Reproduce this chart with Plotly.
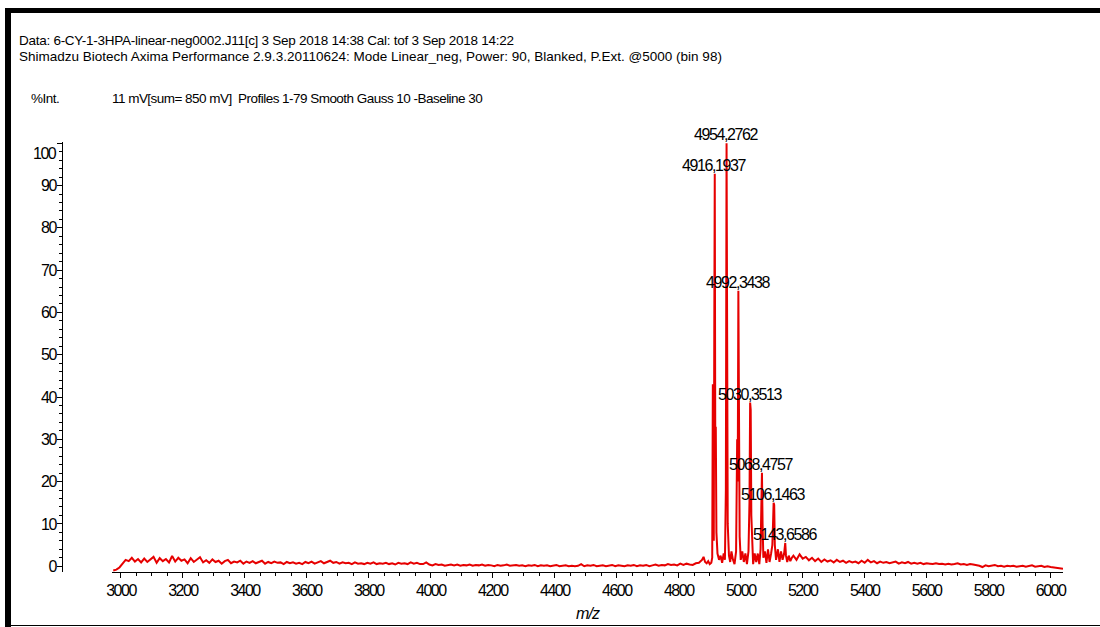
import numpy as np
import plotly.graph_objects as go

# ---------------------------------------------------------------- data
# header / annotation text
header_lines = [
    "Data: 6-CY-1-3HPA-linear-neg0002.J11[c] 3 Sep 2018 14:38 Cal: tof 3 Sep 2018 14:22",
    "Shimadzu Biotech Axima Performance 2.9.3.20110624: Mode Linear_neg, Power: 90, Blanked, P.Ext. @5000 (bin 98)",
]
y_unit_label = "%Int."
scan_info = "11 mV[sum= 850 mV]  Profiles 1-79 Smooth Gauss 10 -Baseline 30"
x_title = "m/z"

# labelled peaks (m/z, relative intensity %)
peak_mz = [4916.1937, 4954.2762, 4992.3438, 5030.3513, 5068.4757, 5106.1463, 5143.6586]
peak_int = [92.8, 100.0, 65.1, 38.7, 22.1, 15.0, 5.5]

# low-mass baseline, sampled every 10 m/z from 2975
low_start, low_step = 2975, 10
low_int = [
    -1.0, -0.8, -0.3, 0.6, 1.5, 1.2, 2.0, 1.1, 1.7, 0.9,
    1.8, 1.0, 1.6, 2.2, 0.8, 1.9, 1.2, 1.7, 0.9, 2.4,
    1.1, 2.0, 1.3, 1.6, 0.7, 1.9, 1.0, 1.5, 2.1, 0.9,
    1.4, 0.8, 1.6, 1.0, 1.3, 0.6, 1.2, 1.5, 0.7, 1.1,
    0.9, 1.3, 0.6, 1.1, 0.8, 1.2, 0.7, 1.0, 1.3, 0.6,
    1.0, 0.7, 1.1, 0.8, 0.9, 0.5, 1.0, 0.7, 0.9, 0.6,
    0.8, 0.5, 1.0, 0.7, 1.1, 0.6, 0.9, 1.2, 0.7, 1.0,
    1.3, 0.8, 1.0, 0.6, 0.9, 0.7, 0.8, 0.5, 0.9, 0.6,
    0.7, 0.5, 0.8, 0.6, 0.9, 0.5, 0.7, 0.6, 0.8, 0.5,
    0.7, 0.4, 0.8, 0.6, 0.7, 0.5, 0.9, 0.6, 0.8, 0.5,
    0.5, 0.9, 0.4, 0.2, 0.5, 0.3, 0.4, 0.1, 0.3, 0.4,
    0.2, 0.4, 0.1, 0.3, 0.2, 0.4, 0.1, 0.3, 0.2, 0.4,
    0.1, 0.3, 0.2, 0.0, 0.3, 0.1, 0.2, 0.4, 0.1, 0.2,
    0.3, 0.1, 0.2, 0.0, 0.2, 0.1, 0.3, 0.0, 0.2, 0.1,
    0.2, 0.0, 0.1, 0.3, 0.0, 0.1, 0.2, 0.0, 0.1, 0.0,
    0.1, 0.5, 0.0, 0.2, 0.1, 0.3, 0.0, 0.1, 0.2, 0.0,
    0.1, 0.3, 0.0, 0.2, 0.1, 0.0, 0.2, 0.1, 0.3, 0.0,
    0.2, 0.1, 0.3, 0.0, 0.2, 0.4, 0.1, 0.3, 0.2, 0.5,
    0.3, 0.4, 0.2, 0.6, 0.3, 0.6, 0.4, 0.3, 0.7, 0.8,
]

# isotope-cluster profile between the apexes (m/z, intensity %)
cluster_mz = [
    4875, 4880, 4885, 4890, 4895, 4900, 4905, 4908, 4910, 4911.5, 4913, 4914.6,
    4917.8, 4919.5, 4921.5, 4925, 4930, 4935, 4940, 4945, 4949, 4952,
    4956.3, 4958, 4962, 4966, 4970, 4975, 4980, 4985, 4988.5, 4990.3,
    4994.3, 4996.5, 5000, 5005, 5010, 5015, 5020, 5025, 5028.2,
    5032.2, 5034.2, 5037, 5040, 5045, 5050, 5055, 5060, 5064, 5066.3,
    5070.5, 5073, 5078, 5083, 5088, 5093, 5098, 5102, 5104.2,
    5108, 5110, 5114, 5120, 5125, 5130, 5135, 5140,
    5146, 5150, 5155, 5160, 5165,
]
cluster_int = [
    1.5, 2.2, 1.0, 0.7, 1.2, 0.5, 0.8, 2.0, 43.0, 18.0, 6.0, 55.0,
    30.0, 33.0, 8.0, 3.0, 1.5, 2.5, 0.8, 3.0, 1.5, 18.0,
    38.0, 10.0, 2.5, 1.0, 3.5, 1.5, 0.5, 3.5, 30.0, 20.0,
    35.0, 7.0, 1.5, 3.5, 1.0, 3.0, 0.5, 3.5, 15.0,
    37.0, 12.0, 3.0, 0.5, 3.0, 1.0, 3.0, 0.5, 4.0, 12.0,
    10.0, 2.0, 3.5, 0.8, 4.0, 1.0, 3.0, 5.0, 10.0,
    14.5, 5.0, 1.5, 4.0, 1.0, 3.5, 1.5, 3.0,
    2.5, 1.0, 2.5, 1.2, 2.0,
]

# high-mass baseline, sampled every 10 m/z from 5170
high_start, high_step = 5170, 10
high_int = [
    2.5, 1.5, 2.8, 1.8, 2.2, 1.4, 2.0, 1.2, 1.8, 1.0,
    1.6, 1.1, 1.4, 0.9, 1.5, 1.0, 1.3, 0.8, 1.2, 0.9,
    1.1, 0.7, 1.3, 0.8, 1.5, 0.9, 1.2, 0.7, 1.1, 0.8,
    1.0, 0.7, 0.9, 1.1, 0.6, 0.9, 0.7, 1.0, 0.6, 0.8,
    0.6, 0.8, 0.5, 0.7, 0.6, 0.5, 0.7, 0.5, 0.6, 0.4,
    0.6, 0.4, 0.5, 0.7, 0.4, 0.5, 0.3, 0.5, 0.4, 0.3,
    0.1, -0.2, 0.2, 0.0, 0.1, 0.3, 0.0, 0.1, -0.1, 0.1,
    0.0, 0.1, -0.1, 0.0, 0.1, -0.1, 0.0, 0.2, -0.1, 0.0,
    0.1, -0.2, 0.0, -0.2, -0.3, -0.5, -0.6, -0.6,
]

x_ticks = list(range(3000, 6001, 200))
y_ticks = list(range(0, 101, 10))

# ---------------------------------------------------------------- spectrum
low_mz = [low_start + low_step * i for i in range(len(low_int))]
high_mz = [high_start + high_step * i for i in range(len(high_int))]
all_mz = np.array(low_mz + cluster_mz + peak_mz + high_mz, dtype=float)
all_int = np.array(low_int + cluster_int + peak_int + high_int, dtype=float)
order = np.argsort(all_mz)
spec_mz, spec_int = all_mz[order], all_int[order]

# ---------------------------------------------------------------- layout
W, H = 1100, 627
ML, MR, MT, MB = 62, 37, 142, 55
PW, PH = W - ML - MR, H - MT - MB
FONT = "Liberation Sans, Arial, sans-serif"
RED = "#e60000"


def px_x(px):
    return (px - ML) / PW


def px_y(py):
    return (H - MB - py) / PH


def tight(text, spacing):
    """Condensed lettering, as in the instrument printout."""
    return f'<span style="letter-spacing:{spacing}px">{text}</span>'


fig = go.Figure()
fig.add_trace(go.Scatter(
    x=spec_mz, y=spec_int, mode="lines",
    line=dict(color=RED, width=2), hoverinfo="skip", showlegend=False,
))

annotations = []
for mz, val in zip(peak_mz, peak_int):
    annotations.append(dict(
        x=mz, y=val, xref="x", yref="y", showarrow=False,
        text=tight(f"{mz:.4f}".replace(".", ","), -1.4),
        xanchor="center", yanchor="bottom", borderpad=0,
        yshift=-1, font=dict(family=FONT, size=16, color="black"),
    ))

# top y tick label sits just inside the axis end
annotations.append(dict(
    x=px_x(58), y=y_ticks[-1], xref="paper", yref="y", showarrow=False,
    text=tight(str(y_ticks[-1]), -1.5), xanchor="right", yanchor="middle",
    yshift=-10, borderpad=0, font=dict(family=FONT, size=16, color="black"),
))

text_font = dict(family=FONT, size=13.5, color="black")
for text, py, sp in zip(header_lines, [41, 56.5], [-0.27, 0.0]):
    annotations.append(dict(
        x=px_x(18), y=px_y(py), xref="paper", yref="paper", showarrow=False,
        text=tight(text, sp), xanchor="left", yanchor="middle", borderpad=0,
        font=text_font,
    ))
annotations.append(dict(
    x=px_x(30), y=px_y(99), xref="paper", yref="paper", showarrow=False,
    text=tight(y_unit_label, -0.5), xanchor="left", yanchor="middle", borderpad=0,
    font=text_font,
))
annotations.append(dict(
    x=px_x(111), y=px_y(99), xref="paper", yref="paper", showarrow=False,
    text=tight(scan_info, -0.53), xanchor="left", yanchor="middle", borderpad=0,
    font=text_font,
))

# frame: heavy top and left rules, thin bottom rule
shapes = [
    dict(type="rect", xref="paper", yref="paper", x0=px_x(5), x1=px_x(1100),
         y0=px_y(8), y1=px_y(13), fillcolor="black", line=dict(width=0)),
    dict(type="rect", xref="paper", yref="paper", x0=px_x(5), x1=px_x(11),
         y0=px_y(8), y1=px_y(627), fillcolor="black", line=dict(width=0)),
    dict(type="line", xref="paper", yref="paper", x0=px_x(5), x1=px_x(1100),
         y0=px_y(625.5), y1=px_y(625.5), line=dict(color="black", width=1)),
]

axis_font = dict(family=FONT, size=16, color="black")
y_text = [tight(str(v), -1.5) for v in y_ticks]
y_text[-1] = ""
fig.update_layout(
    template="none",
    width=W, height=H,
    margin=dict(l=ML, r=MR, t=MT, b=MB, autoexpand=False),
    paper_bgcolor="white", plot_bgcolor="white",
    showlegend=False,
    annotations=annotations,
    shapes=shapes,
    xaxis=dict(
        domain=[px_x(112), 1], range=[2971, 6040], autorange=False,
        showgrid=False, zeroline=False, showline=True, linecolor="black", linewidth=1,
        ticks="outside", ticklen=5, tickwidth=1, tickcolor="black",
        tickvals=x_ticks, ticktext=[tight(str(v), -1.5) for v in x_ticks],
        tickfont=axis_font, ticklabelstandoff=-1,
        minor=dict(ticks="outside", ticklen=3, dtick=50, tick0=3000,
                   tickcolor="black", tickwidth=1, showgrid=False),
        title=dict(text=f"<i>{tight(x_title, -1.0)}</i>",
                   font=dict(family=FONT, size=16, color="black"), standoff=9),
        automargin=False, anchor="y",
    ),
    yaxis=dict(
        domain=[0, 1], range=[-1.37, 100.3], autorange=False,
        anchor="free", position=0,
        showgrid=False, zeroline=False, showline=True, linecolor="black", linewidth=1,
        ticks="outside", ticklen=5, tickwidth=1, tickcolor="black",
        tickvals=y_ticks, ticktext=y_text, tickfont=axis_font, ticklabelstandoff=-2,
        minor=dict(ticks="outside", ticklen=3, dtick=2, tick0=0,
                   tickcolor="black", tickwidth=1, showgrid=False),
        automargin=False,
    ),
)

fig.write_html("out.html")
